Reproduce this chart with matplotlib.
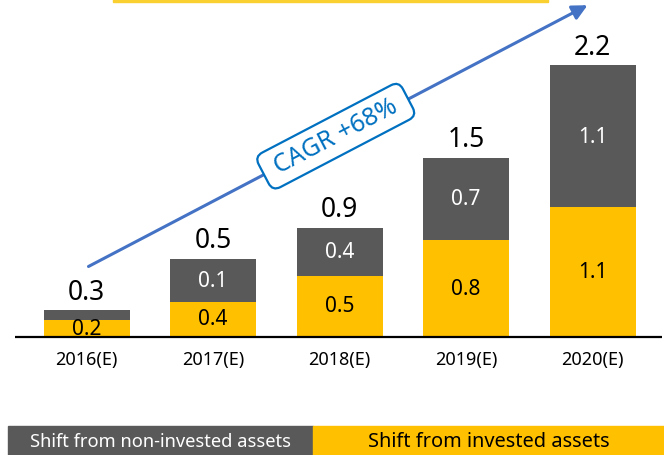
import matplotlib
matplotlib.use('Agg')
import matplotlib.pyplot as plt
from matplotlib.patches import Rectangle

plt.rcParams['font.family'] = ['Noto Sans', 'DejaVu Sans']

# data
years = ['2016(E)', '2017(E)', '2018(E)', '2019(E)', '2020(E)']
invested = [0.13, 0.28, 0.49, 0.78, 1.05]        # drawn heights, yellow
non_invested = [0.08, 0.35, 0.39, 0.67, 1.15]    # drawn heights, gray
invested_labels = ['0.2', '0.4', '0.5', '0.8', '1.1']
non_invested_labels = ['', '0.1', '0.4', '0.7', '1.1']
total_labels = ['0.3', '0.5', '0.9', '1.5', '2.2']
cagr_text = 'CAGR +68%'
legend_labels = ['Shift from non-invested assets', 'Shift from invested assets']

YELLOW = '#FFC000'
GRAY = '#595959'
BLUE = '#4472C4'
TEXT_BLUE = '#0070C0'

fig = plt.figure(figsize=(6.64, 4.56), dpi=100)
ax = fig.add_axes([0, 0, 1, 1])
ax.set_xlim(-0.684, 4.565)
ax.set_ylim(-0.967, 2.74)
ax.axis('off')

x = list(range(len(years)))
ax.bar(x, invested, width=0.68, color=YELLOW, zorder=2)
ax.bar(x, non_invested, width=0.68, bottom=invested, color=GRAY, zorder=2)

# baseline
ax.plot([-0.565, 4.55], [-0.005, -0.005], color='black', lw=1.6, zorder=3,
        solid_capstyle='butt')

for i in x:
    ax.text(i, invested[i] / 2, invested_labels[i], ha='center', va='center',
            fontsize=15, color='black', zorder=4)
    if non_invested_labels[i]:
        ax.text(i, invested[i] + non_invested[i] / 2, non_invested_labels[i],
                ha='center', va='center', fontsize=15, color='white', zorder=4)
    top = invested[i] + non_invested[i]
    ax.text(i, top + 0.035, total_labels[i], ha='center', va='bottom',
            fontsize=19, color='black', zorder=4)
    ax.text(i, -0.19, years[i], ha='center', va='center', fontsize=13,
            color='black')

# CAGR arrow
ax.annotate('', xy=(3.98, 2.70), xytext=(-0.004, 0.555),
            arrowprops=dict(arrowstyle='-|>,head_length=0.9,head_width=0.45',
                            color=BLUE, lw=2.2), zorder=1)
ax.text(1.97, 1.625, ' ' + cagr_text + ' ', rotation=27.6,
        rotation_mode='anchor', ha='center', va='center', fontsize=18,
        color=TEXT_BLUE, zorder=5,
        bbox=dict(boxstyle='round,pad=0.28,rounding_size=0.35', fc='white',
                  ec=TEXT_BLUE, lw=1.6))

# yellow strip at the top
fig.patches.append(Rectangle((113 / 664, 453 / 456), 435 / 664, 3 / 456,
                             transform=fig.transFigure, color='#F9D030'))

# legend strip
fig.patches.append(Rectangle((8 / 664, 0), 305 / 664, 29 / 456,
                             transform=fig.transFigure, color=GRAY))
fig.patches.append(Rectangle((313 / 664, 0), 351 / 664, 29 / 456,
                             transform=fig.transFigure, color=YELLOW))
fig.text(161 / 664, 14 / 456, legend_labels[0], ha='center', va='center',
         fontsize=13.2, color='white')
fig.text(489 / 664, 14 / 456, legend_labels[1], ha='center', va='center',
         fontsize=14.4, color='black')

fig.savefig('out.png', dpi=100)
